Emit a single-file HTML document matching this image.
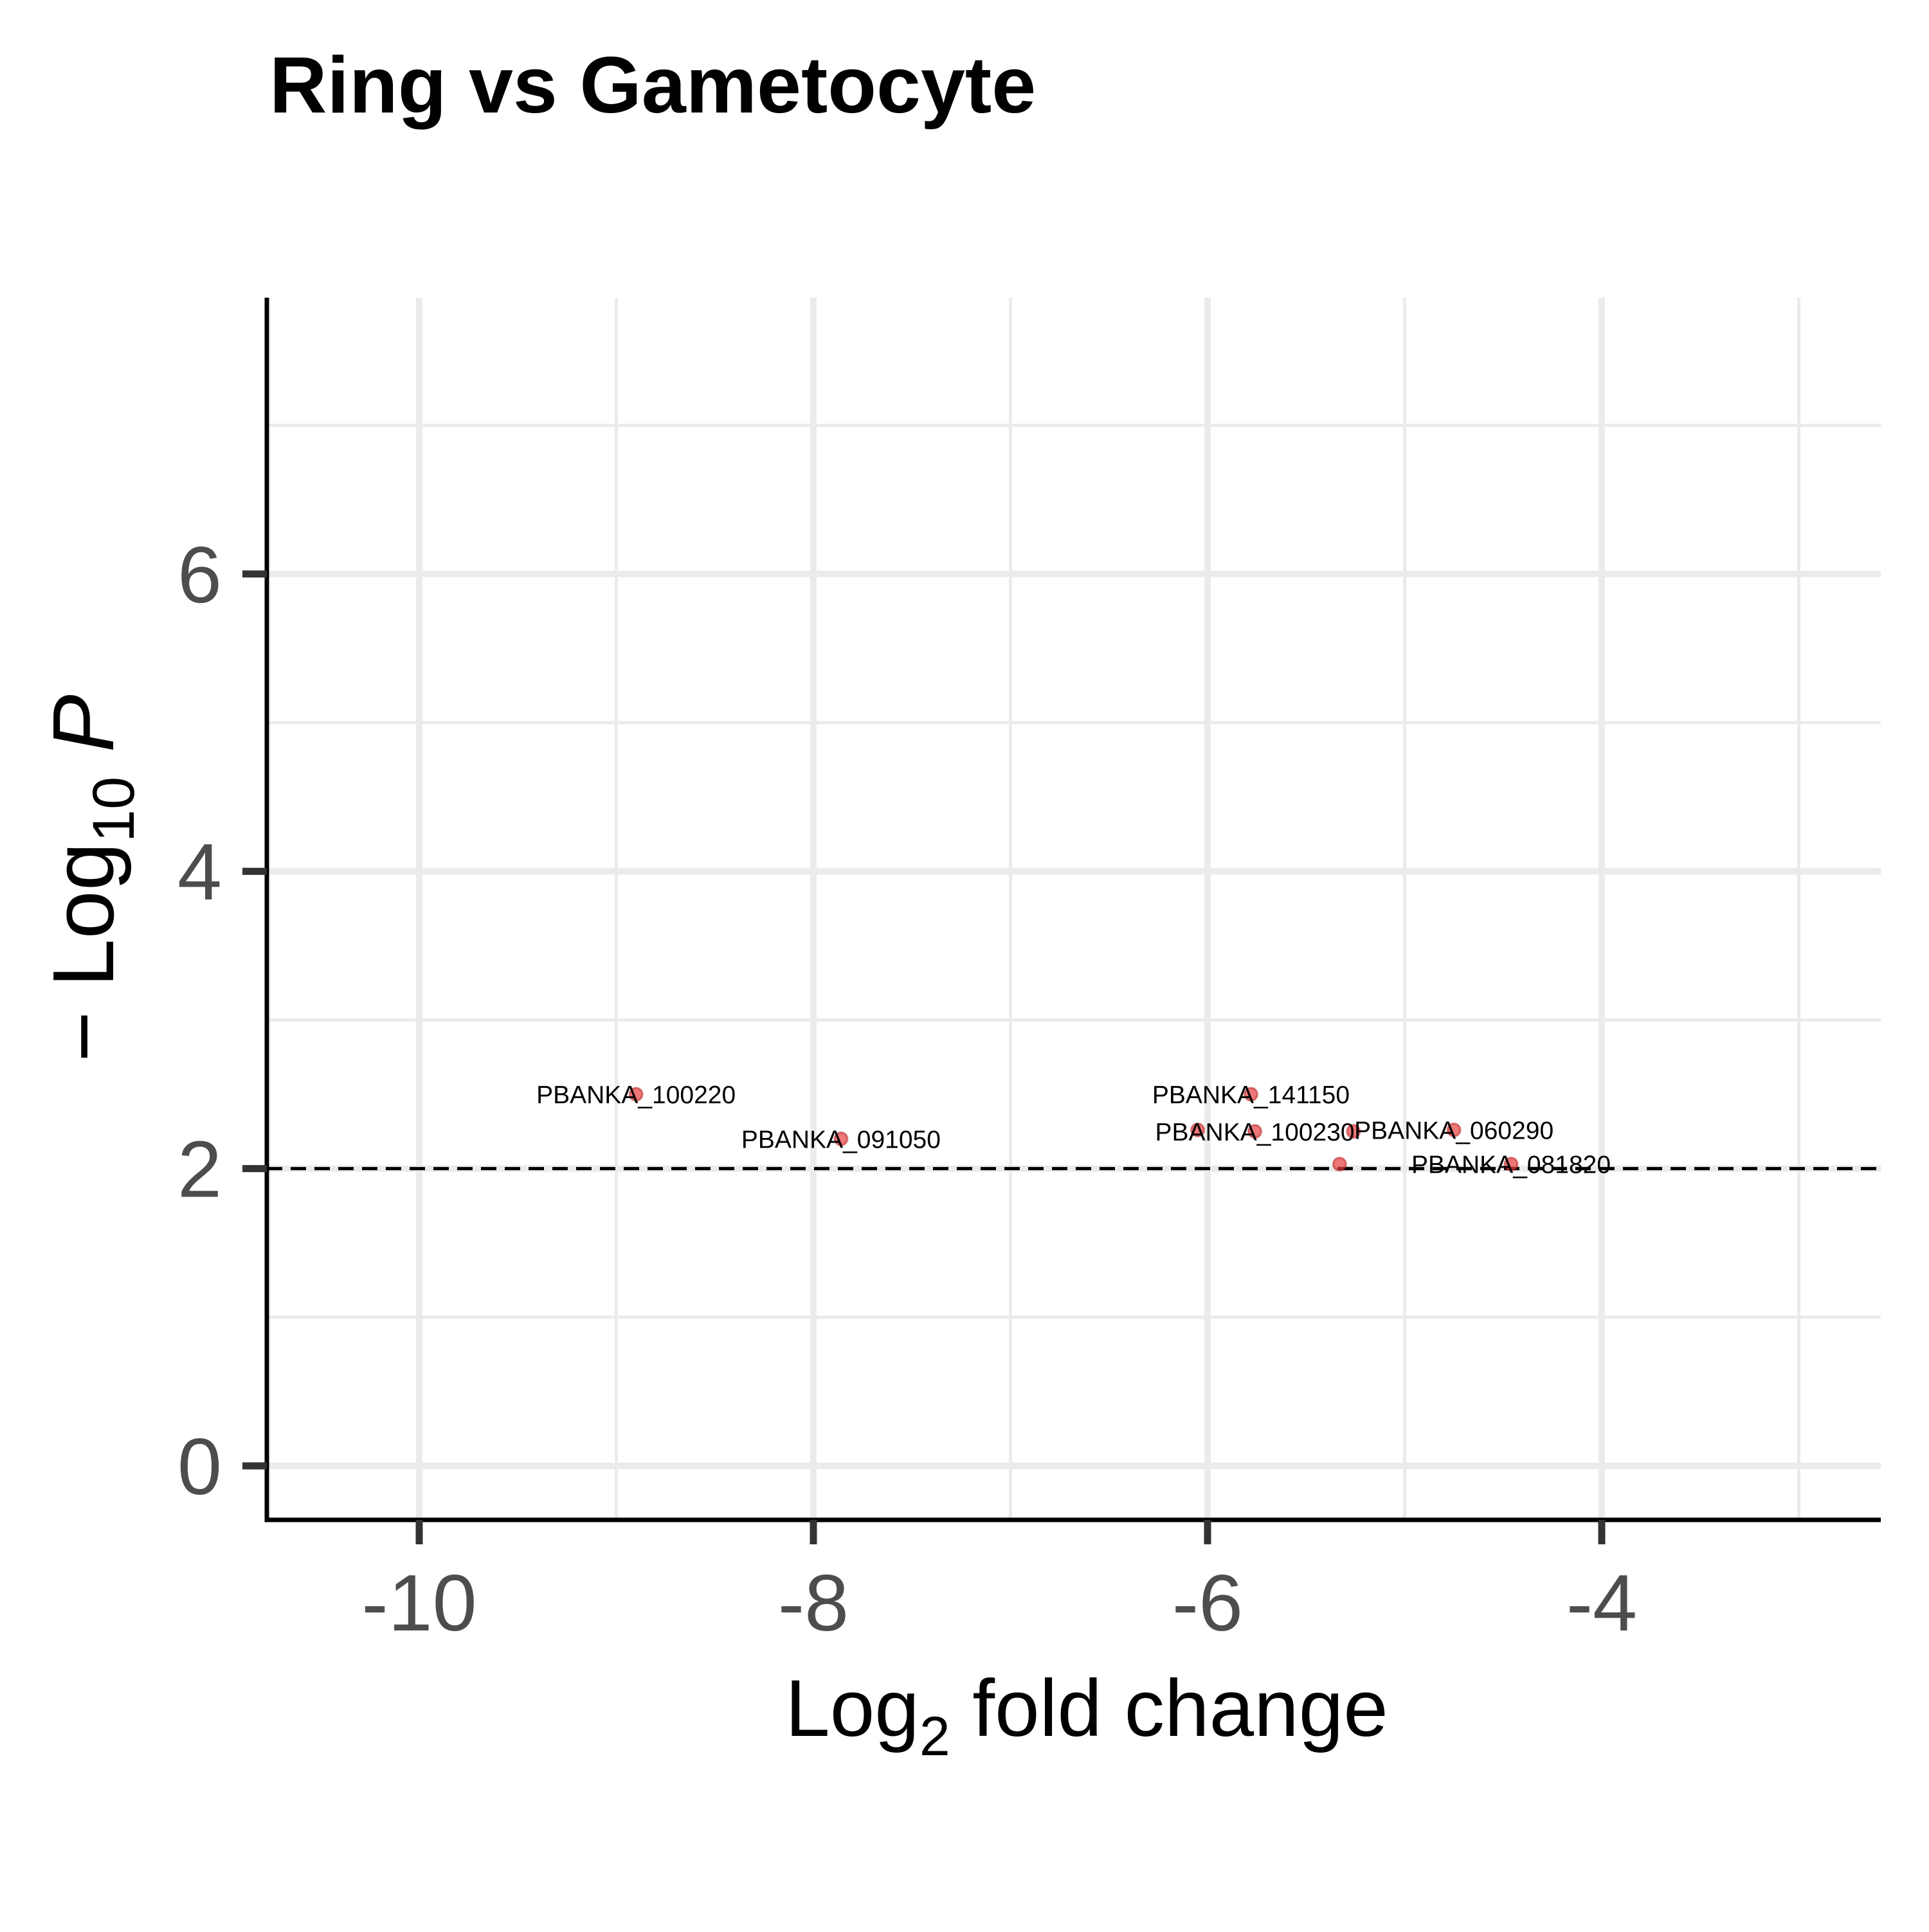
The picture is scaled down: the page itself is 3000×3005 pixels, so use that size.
<!DOCTYPE html>
<html><head><meta charset="utf-8"><style>html,body{margin:0;padding:0;background:#fff}</style></head>
<body>
<svg id="chart" width="3000" height="3000" xmlns="http://www.w3.org/2000/svg" font-family="Liberation Sans, sans-serif"></svg>
<script>
const xMajorTicks = [-10, -8, -6, -4];
const xMinorTicks = [-11, -9, -7, -5, -3];
const yMajorTicks = [0, 2, 4, 6];
const yMinorTicks = [1, 3, 5, 7];
const pointX = [-8.9, -7.86, -5.78, -6.05, -5.76, -5.26, -4.75, -5.33, -4.46];
const pointY = [2.5, 2.2, 2.5, 2.26, 2.25, 2.25, 2.26, 2.03, 2.03];
const pointLabels = ["PBANKA_100220", "PBANKA_091050", "PBANKA_141150", "", "PBANKA_100230", "", "PBANKA_060290", "", "PBANKA_081820"];
const threshold = 2;

const L = 415, R = 2925, T = 463, B = 2364;
const sx = v => 652 + (v + 10) * 306.5;
const sy = v => 2280 - v * 231.2;
const svg = document.getElementById('chart');
const NS = 'http://www.w3.org/2000/svg';
function mk(tag, attrs, parent) {
  const e = document.createElementNS(NS, tag);
  for (const k in attrs) e.setAttribute(k, attrs[k]);
  (parent || svg).appendChild(e);
  return e;
}
xMinorTicks.forEach(v => { if (sx(v) > L && sx(v) < R) {
  const g = mk('line', {x1: sx(v), x2: sx(v), y1: T, y2: B, stroke: '#ebebeb', 'stroke-width': 5});
  
   }});
yMinorTicks.forEach(v => {
  const g = mk('line', {x1: L, x2: R, y1: sy(v), y2: sy(v), stroke: '#ebebeb', 'stroke-width': 5});
  
   });
xMajorTicks.forEach(v => {
  const g = mk('line', {x1: sx(v), x2: sx(v), y1: T, y2: B, stroke: '#ebebeb', 'stroke-width': 10});
  
   });
yMajorTicks.forEach(v => {
  const g = mk('line', {x1: L, x2: R, y1: sy(v), y2: sy(v), stroke: '#ebebeb', 'stroke-width': 10});
  
   });
const th = mk('line', {x1: L, x2: R, y1: sy(threshold), y2: sy(threshold), stroke: '#000', 'stroke-width': 5, 'stroke-dasharray': '24,13'});


const ax = mk('path', {d: `M${L},${T} L${L},${B} L${R},${B}`, stroke: '#000', 'stroke-width': 7, fill: 'none'});


xMajorTicks.forEach(v => {
  const t = mk('line', {x1: sx(v), x2: sx(v), y1: B, y2: B + 38, stroke: '#333', 'stroke-width': 11});
  
  
  const tl = mk('text', {x: sx(v), y: B + 172, 'font-size': 124, fill: '#4d4d4d', 'text-anchor': 'middle'});
  tl.textContent = v;
  
  
});
yMajorTicks.forEach(v => {
  const t = mk('line', {x1: L - 38, x2: L, y1: sy(v), y2: sy(v), stroke: '#333', 'stroke-width': 11});
  
  
  const tl = mk('text', {x: L - 70, y: sy(v) + 44, 'font-size': 124, fill: '#4d4d4d', 'text-anchor': 'end'});
  tl.textContent = v;
  
  
});
pointX.forEach((x, i) => {
  const c = mk('circle', {cx: sx(x), cy: sy(pointY[i]), r: 10, fill: 'rgba(230,60,60,0.7)', stroke: 'rgba(180,30,30,0.5)', 'stroke-width': 3});
  
  
});
pointX.forEach((x, i) => {
  if (!pointLabels[i]) return;
  const t = mk('text', {x: sx(x), y: sy(pointY[i]) + 14, 'font-size': 39, fill: '#000', 'text-anchor': 'middle'});
  t.textContent = pointLabels[i];
  
  
});
</script>
<svg style="position:absolute;left:0;top:0" width="3000" height="3000" font-family="Liberation Sans, sans-serif">
  <text x="419" y="175" font-size="124" font-weight="bold">Ring vs Gametocyte</text>
  <text x="1690" y="2700" font-size="125" text-anchor="middle">Log<tspan font-size="86" dy="30">2</tspan><tspan dy="-30"> fold change</tspan></text>
  <text transform="translate(176,1366) rotate(-90)" font-size="135" text-anchor="middle">− Log<tspan font-size="92" dy="32">10</tspan><tspan dy="-32" font-style="italic"> P</tspan></text>
</svg>
</body></html>
